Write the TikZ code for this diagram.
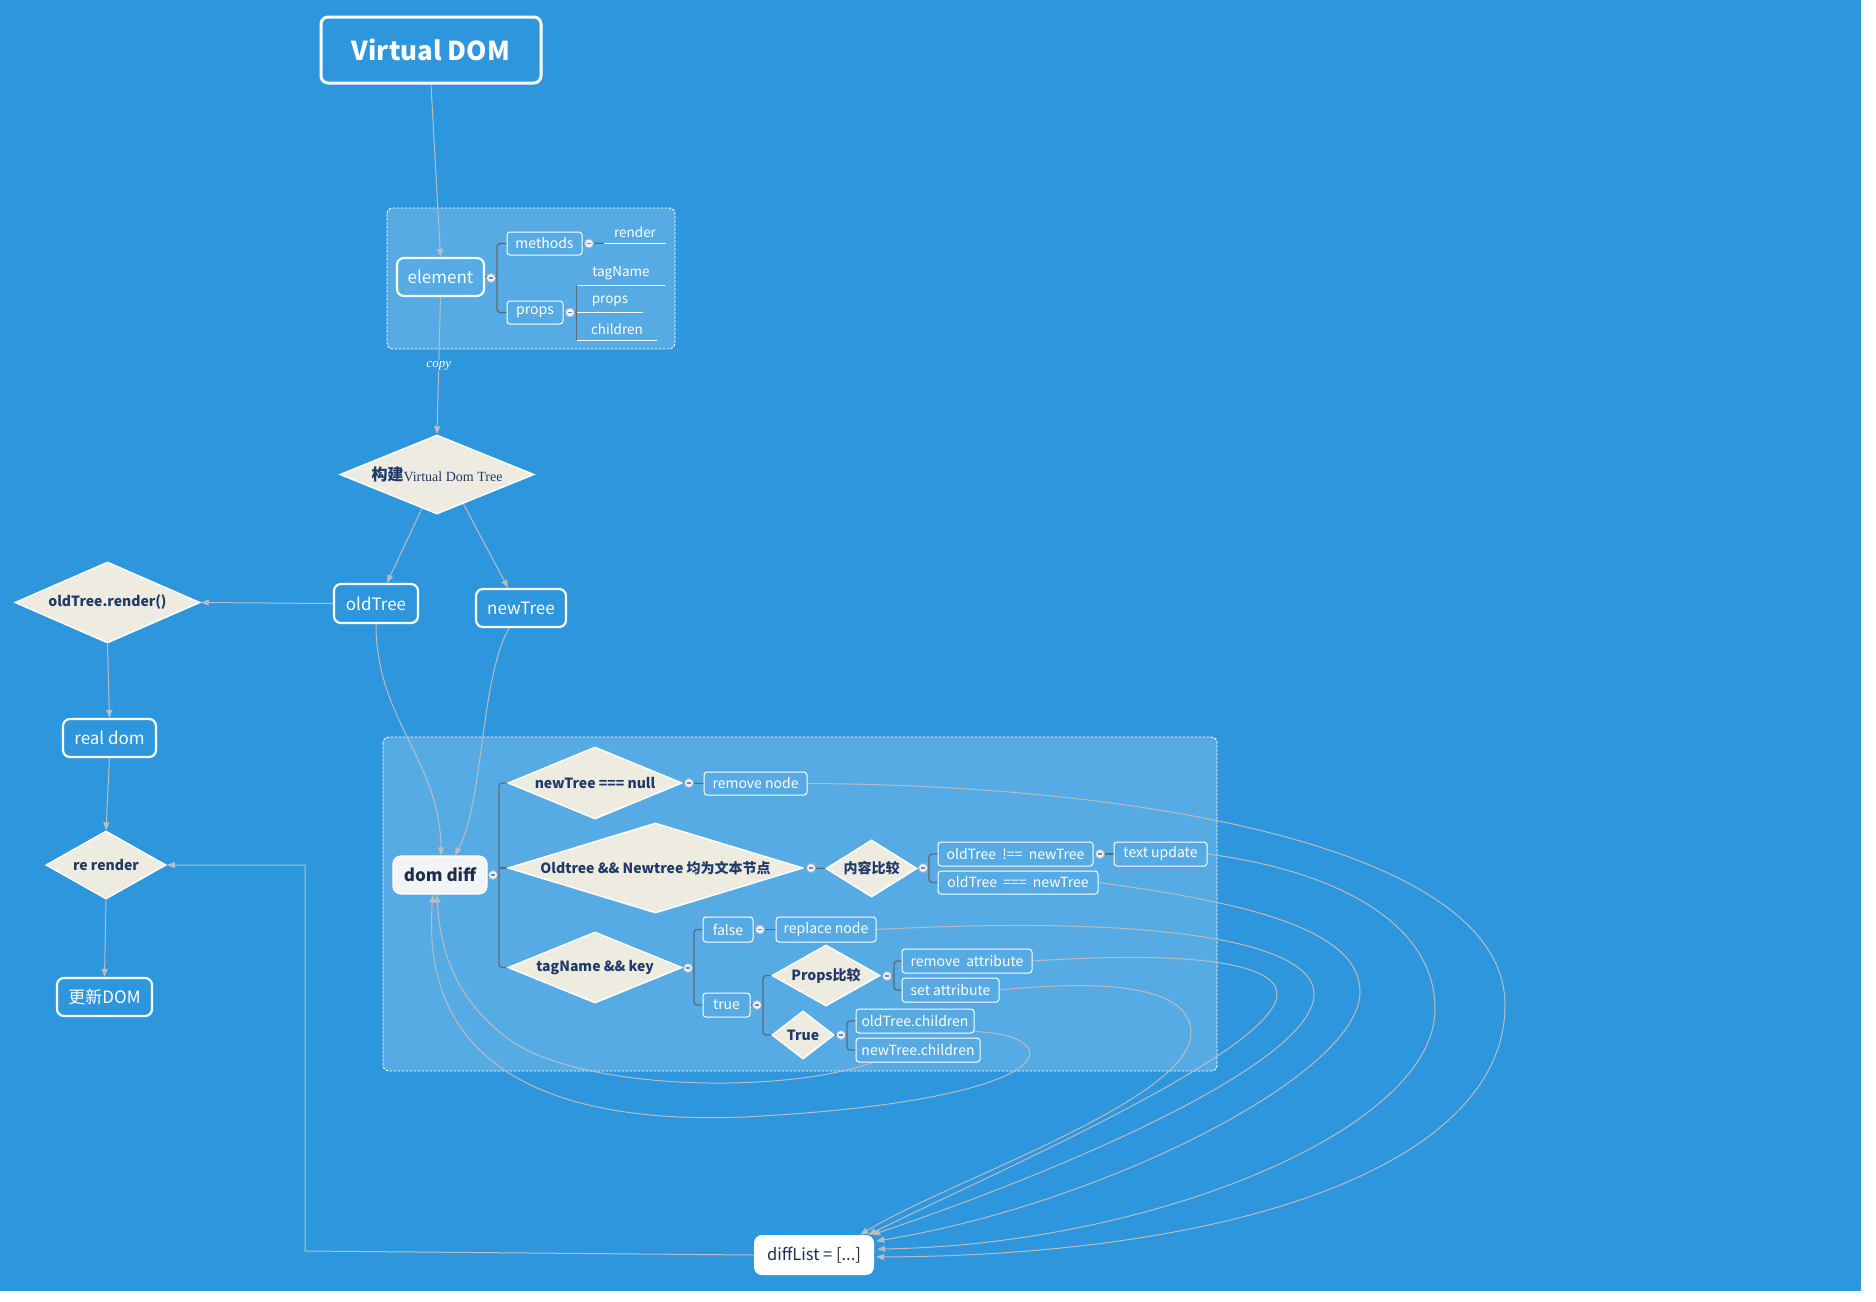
\documentclass[tikz,border=0pt]{standalone}
\usepackage{fontspec}
\setmainfont{Noto Sans CJK SC}
\newfontfamily\serifLat{Liberation Serif}
\usetikzlibrary{shapes.geometric,arrows.meta,calc}
\definecolor{bgC}{HTML}{2E96DD}
\definecolor{grpC}{HTML}{57ABE4}
\definecolor{cream}{HTML}{EEEBE1}
\definecolor{navy}{HTML}{1F3A68}
\definecolor{lineC}{HTML}{B9BCC0}
\definecolor{brkC}{HTML}{5E6A76}
\definecolor{collB}{HTML}{9FB1DD}
\definecolor{collM}{HTML}{7486B8}
\definecolor{collF}{HTML}{F0F3FB}
\definecolor{ddF}{HTML}{F3F4F6}
\definecolor{dlT}{HTML}{1E2D4A}
\pgfdeclarelayer{back}
\pgfdeclarelayer{bg}
\pgfsetlayers{back,bg,main}
\begin{document}
\begin{tikzpicture}[x=1pt,y=-1pt,
  sz/.style 2 args={minimum width=#1,minimum height=#2},
  big/.style={draw=white,line width=3pt,rounded corners=7pt,text=white,font=\bfseries\fontsize{26}{30}\selectfont,inner sep=0pt},
  topic/.style={draw=white,line width=2.2pt,rounded corners=7pt,text=white,font=\fontsize{17}{20}\selectfont,inner sep=0pt},
  subbox/.style={draw=white,line width=1pt,rounded corners=3pt,text=white,font=\fontsize{14}{17}\selectfont,inner sep=0pt},
  dia/.style={diamond,fill=cream,draw=white,line width=1.5pt,text=navy,font=\bfseries\fontsize{14}{17}\selectfont,inner sep=0pt},
  leaf/.style={text=white,font=\fontsize{13.5}{16}\selectfont,inner sep=0pt},
  conn/.style={draw=lineC,line width=1pt,-{Triangle[length=8pt,width=6pt]}},
  brk/.style={draw=brkC,line width=1.2pt},
  coll/.style={circle,fill=collF,draw=collB,line width=0.8pt,minimum size=9pt,inner sep=0pt,
    path picture={\draw[collM,line width=1.3pt] ([xshift=-2.4pt]path picture bounding box.center) -- ([xshift=2.4pt]path picture bounding box.center);}},
  grp/.style={fill=grpC,draw=white,line width=0.9pt,dash pattern=on 2.5pt off 1.5pt,rounded corners=6pt},
]
\useasboundingbox (0,0) rectangle (1876,1301);
\begin{pgfonlayer}{back}
\fill[white] (0,0) rectangle (1876,1301);
\fill[bgC] (0,0) rectangle (1861,1291);
\path[grp] (387,208) rectangle (675,349);
\path[grp] (383,737) rectangle (1217,1071);
\end{pgfonlayer}

% ---------- nodes ----------
\node[big,sz={220}{66}] (vd) at (431,50) {Virtual DOM};
\node[topic,sz={87}{38}] (el) at (440.5,277) {element};
\node[subbox,sz={75}{23}] (meth) at (544.5,243.5) {methods};
\node[subbox,sz={56}{23}] (prp) at (535,312.5) {props};
\node[leaf,sz={62}{22}] (rend) at (635,232) {render};
\node[leaf,sz={88}{23}] (tagN) at (621,273.5) {tagName};
\node[leaf,sz={66}{22}] (prC) at (610,301) {props};
\node[leaf,sz={80}{22}] (chl) at (617,329) {children};

\node[dia,sz={194}{79},aspect=2.456] (gz) at (437,474.5)
  {\raisebox{1.5pt}{\fontsize{16}{18}\selectfont 构建}{\serifLat\mdseries\fontsize{14}{16}\selectfont Virtual Dom Tree}};
\node[topic,sz={84}{39}] (ot) at (376,603.5) {oldTree};
\node[topic,sz={90}{38}] (nt) at (521,608) {newTree};
\node[dia,sz={185}{81},aspect=2.284] (otr) at (107.5,602.5) {oldTree.render()};
\node[topic,sz={93}{38}] (rd) at (109.5,738) {real dom};
\node[dia,sz={120}{68},aspect=1.765] (rr) at (106,865) {re render};
\node[topic,sz={95}{38}] (gx) at (104.5,997) {更新DOM};

\node[fill=ddF,draw=white,line width=1.2pt,rounded corners=8pt,inner sep=0pt,sz={94}{38},text=dlT,font=\bfseries\fontsize{17}{20}\selectfont] (dd) at (440,875) {dom diff};
\node[dia,sz={174}{72},aspect=2.417] (d1) at (595,783) {newTree === null};
\node[subbox,sz={103}{23}] (rn) at (755.5,783.5) {remove node};
\node[dia,sz={295}{90},aspect=3.278] (d2) at (655.5,868) {Oldtree \&\& Newtree 均为文本节点};
\node[dia,sz={91}{57},aspect=1.596] (d3) at (871.5,868.5) {内容比较};
\node[subbox,sz={155}{24}] (ne) at (1015.5,854) {oldTree\ \ !==\ \ newTree};
\node[subbox,sz={93}{24}] (tu) at (1160.5,854) {text update};
\node[subbox,sz={160}{23}] (eq) at (1018,882.5) {oldTree\ \ ===\ \ newTree};
\node[dia,sz={174}{71},aspect=2.451] (d4) at (595,967.5) {tagName \&\& key};
\node[subbox,sz={50}{25}] (fa) at (728,929.5) {false};
\node[subbox,sz={100}{25}] (rp) at (826,929.5) {replace node};
\node[subbox,sz={47}{24}] (tr) at (726.5,1005) {true};
\node[dia,sz={108}{61},aspect=1.770] (d5) at (826,975.5) {Props比较};
\node[subbox,sz={130}{24}] (ra) at (967,961) {remove\ \ attribute};
\node[subbox,sz={97}{24}] (sa) at (950.5,990) {set attribute};
\node[dia,sz={62}{48},aspect=1.292] (d6) at (803,1035) {True};
\node[subbox,sz={118}{24}] (oc) at (915,1021) {oldTree.children};
\node[subbox,sz={124}{24}] (nc) at (918,1050) {newTree.children};
\node[fill=white,rounded corners=8pt,inner sep=0pt,sz={120}{40},text=dlT,font=\fontsize{16.5}{19}\selectfont] (dl) at (814,1255) {diffList = [...]};

% bracket junction coordinates
\coordinate (bx1) at (497,277);
\coordinate (bx0) at (499,875);
\coordinate (bx3) at (929,868);
\coordinate (bx4) at (694,968);
\coordinate (bx5) at (763,1005);
\coordinate (bx6) at (894,976);
\coordinate (bx7) at (847,1035);
\coordinate (c1) at (305,1251);

\begin{pgfonlayer}{bg}
% underlines of floating topics
\draw[white,line width=1pt] (rend.south west) -- (rend.south east);
\draw[white,line width=1pt] (tagN.south west) -- (tagN.south east);
\draw[white,line width=1pt] (prC.south west) -- (prC.south east);
\draw[white,line width=1pt] (chl.south west) -- (chl.south east);
% brackets
\draw[brk] (el.east) -- (bx1);
\draw[brk,rounded corners=3pt] (meth.west) -| (bx1) |- (prp.west);
\draw[brk] (meth.east) -- (rend.south west);
\draw[brk] (prp.east) -- (prC.south west);
\draw[brk,rounded corners=3pt] (tagN.south west) -- (chl.south west);
\draw[brk] (dd.east) -- (bx0);
\draw[brk,rounded corners=3pt] (d1.west) -| (bx0) |- (d4.west);
\draw[brk] (d2.west) -- (d2.west -| bx0);
\draw[brk] (d1.east) -- (rn.west);
\draw[brk] (d2.east) -- (d3.west);
\draw[brk] (d3.east) -- (bx3);
\draw[brk,rounded corners=3pt] (ne.west) -| (bx3) |- (eq.west);
\draw[brk] (ne.east) -- (tu.west);
\draw[brk] (d4.east) -- (bx4);
\draw[brk,rounded corners=3pt] (fa.west) -| (bx4) |- (tr.west);
\draw[brk] (fa.east) -- (rp.west);
\draw[brk] (tr.east) -- (bx5);
\draw[brk,rounded corners=3pt] (d5.west) -| (bx5) |- (d6.west);
\draw[brk] (d5.east) -- (bx6);
\draw[brk,rounded corners=3pt] (ra.west) -| (bx6) |- (sa.west);
\draw[brk] (d6.east) -- (bx7);
\draw[brk,rounded corners=3pt] (oc.west) -| (bx7) |- (nc.west);

% connectors
\draw[conn] (vd.south) -- (el.north);
\draw[conn] (el.south) -- node[fill=bgC,inner sep=1pt,text=white,font=\serifLat\itshape\fontsize{13}{15}\selectfont]{copy} (gz.north);
\draw[conn] ($(gz.south)!0.155!(gz.west)$) -- ($(ot.north)+(11,0)$);
\draw[conn] ($(gz.south)!0.27!(gz.east)$) -- ($(nt.north)+(-13,0)$);
\draw[conn] (ot.west) -- (otr.east);
\draw[conn] (otr.south) -- (rd.north);
\draw[conn] (rd.south) -- (rr.north);
\draw[conn] (rr.south) -- (gx.north);
\draw[conn] (ot.south) .. controls (376,720) and (440,760) .. ($(dd.north)+(1,0)$);
\draw[conn] ($(nt.south)+(-12,0)$) .. controls (480,680) and (484,800) .. ($(dd.north)+(15,0)$);
\draw[conn] (dl.west) -- (c1) |- (rr.east);

% to diffList
\draw[conn] (rn.east) .. controls (1150,785) and (1505,850) .. (1505,1005) .. controls (1505,1160) and (1250,1255) .. ($(dl.east)+(2,2)$);
\draw[conn] (tu.east) .. controls (1330,870) and (1435,920) .. (1435,1009) .. controls (1435,1130) and (1150,1245) .. ($(dl.east)+(3,-6)$);
\draw[conn] (eq.east) .. controls (1250,903) and (1360,930) .. (1360,992) .. controls (1360,1075) and (1100,1205) .. ($(dl.east)+(2,-14)$);
\draw[conn] (rp.east) .. controls (1150,915) and (1314,940) .. (1314,994) .. controls (1314,1065) and (1050,1175) .. ($(dl.north east)+(-2,0)$);
\draw[conn] (ra.east) .. controls (1200,950) and (1277,965) .. (1277,994) .. controls (1277,1050) and (1000,1170) .. ($(dl.north east)+(-6,0)$);
\draw[conn] (sa.east) .. controls (1120,978) and (1191,990) .. (1191,1033) .. controls (1191,1100) and (950,1180) .. ($(dl.north east)+(-14,0)$);

% recursion loops
\draw[conn] ($(oc.south east)+(0,-2)$) .. controls (1070,1035) and (1070,1100) .. (744,1117) .. controls (540,1125) and (420,1060) .. ($(dd.south)+(-7,0)$);
\draw[conn] ($(nc.south)+(-45,0)$) .. controls (780,1095) and (580,1090) .. (510,1040) .. controls (455,1000) and (440,950) .. ($(dd.south)+(-3,0)$);
\end{pgfonlayer}

% collapse markers
\node[coll] (k1) at (491,278) {};
\node[coll] (k2) at (589,243.5) {};
\node[coll] (k3) at (570,312.5) {};
\node[coll] (k4) at (493,875) {};
\node[coll] (k5) at (689,783) {};
\node[coll] (k6) at (811,868) {};
\node[coll] (k7) at (923,868) {};
\node[coll] (k8) at (1100,854) {};
\node[coll] (k9) at (688,968) {};
\node[coll] (k10) at (760,929.5) {};
\node[coll] (k11) at (757,1005) {};
\node[coll] (k12) at (887,976) {};
\node[coll] (k13) at (841,1035) {};
\end{tikzpicture}
\end{document}
